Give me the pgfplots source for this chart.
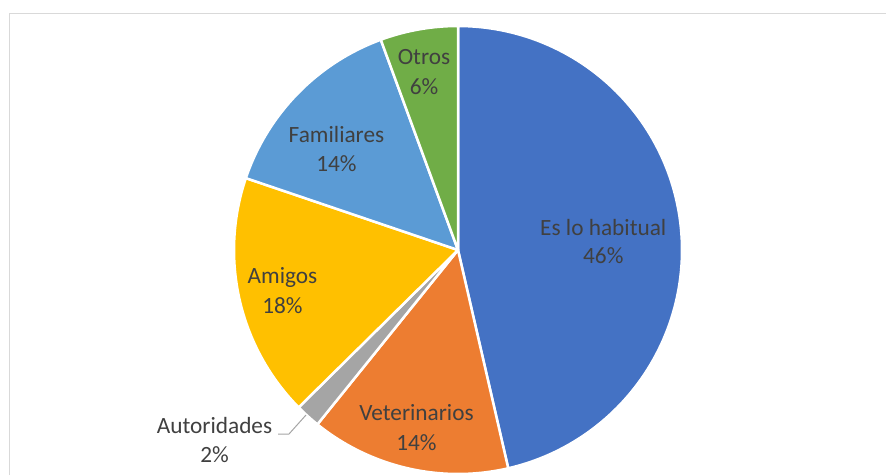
\documentclass[border=0pt]{standalone}
\usepackage{pgfplots}
\pgfplotsset{compat=1.18}
\usepackage{fontspec}
\setmainfont{Carlito}
\definecolor{cBlue}{HTML}{4472C4}
\definecolor{cOrange}{HTML}{ED7D31}
\definecolor{cGray}{HTML}{A5A5A5}
\definecolor{cYellow}{HTML}{FFC000}
\definecolor{cLBlue}{HTML}{5B9BD5}
\definecolor{cGreen}{HTML}{70AD47}
\definecolor{txt}{HTML}{404040}
\definecolor{frame}{HTML}{D9D9D9}
% shares (percent), clockwise from 12 o'clock
\def\vA{46.4}% Es lo habitual
\def\vB{14.4}% Veterinarios
\def\vC{1.8}%  Autoridades
\def\vD{17.6}% Amigos
\def\vE{14.2}% Familiares
\def\vF{5.6}%  Otros
\pgfmathsetmacro\cA{\vA*3.6}
\pgfmathsetmacro\cB{\cA+\vB*3.6}
\pgfmathsetmacro\cC{\cB+\vC*3.6}
\pgfmathsetmacro\cD{\cC+\vD*3.6}
\pgfmathsetmacro\cE{\cD+\vE*3.6}
\pgfmathsetmacro\cF{\cE+\vF*3.6}
\def\cx{458}
\def\cy{225}
\def\rr{224}
\begin{document}
\begin{tikzpicture}
\begin{axis}[hide axis, scale only axis, width=886pt, height=475pt,
  xmin=0, xmax=886, ymin=0, ymax=475, clip=false,
  every axis plot/.append style={samples=120, line join=round}]
\draw[frame, line width=1pt] (axis cs:9,0) -- (axis cs:9,461.7) -- (axis cs:886,461.7);
\addplot[fill=cBlue, draw=white, line width=2.5pt, domain=0:\cA, variable=\t]
  ({\cx+\rr*sin(\t)},{\cy+\rr*cos(\t)}) -- (axis cs:\cx,\cy) -- cycle;
\addplot[fill=cOrange, draw=white, line width=2.5pt, domain=\cA:\cB, variable=\t]
  ({\cx+\rr*sin(\t)},{\cy+\rr*cos(\t)}) -- (axis cs:\cx,\cy) -- cycle;
\addplot[fill=cGray, draw=white, line width=2.5pt, domain=\cB:\cC, variable=\t, samples=10]
  ({\cx+\rr*sin(\t)},{\cy+\rr*cos(\t)}) -- (axis cs:\cx,\cy) -- cycle;
\addplot[fill=cYellow, draw=white, line width=2.5pt, domain=\cC:\cD, variable=\t]
  ({\cx+\rr*sin(\t)},{\cy+\rr*cos(\t)}) -- (axis cs:\cx,\cy) -- cycle;
\addplot[fill=cLBlue, draw=white, line width=2.5pt, domain=\cD:\cE, variable=\t]
  ({\cx+\rr*sin(\t)},{\cy+\rr*cos(\t)}) -- (axis cs:\cx,\cy) -- cycle;
\addplot[fill=cGreen, draw=white, line width=2.5pt, domain=\cE:\cF, variable=\t]
  ({\cx+\rr*sin(\t)},{\cy+\rr*cos(\t)}) -- (axis cs:\cx,\cy) -- cycle;
% leader line for Autoridades
\addplot[draw=cGray, line width=1pt, mark=none] coordinates {(278,41) (289,41) (306,60)};
\begin{scope}[every node/.style={anchor=base, text=txt, font=\fontsize{23.3}{28}\selectfont, inner sep=0pt}]
\node at (axis cs:603.3,240) {Es lo habitual};
\node at (axis cs:603.3,211.7) {46\%};
\node at (axis cs:416.5,54.3) {Veterinarios};
\node at (axis cs:416.5,25) {14\%};
\node at (axis cs:214.5,41.7) {Autoridades};
\node at (axis cs:214.5,12.7) {2\%};
\node at (axis cs:282.5,191.7) {Amigos};
\node at (axis cs:282.5,161.7) {18\%};
\node at (axis cs:336.5,332.7) {Familiares};
\node at (axis cs:336.5,303.3) {14\%};
\node at (axis cs:424,410) {Otros};
\node at (axis cs:424,381) {6\%};
\end{scope}
\end{axis}
\pgfresetboundingbox
\path[use as bounding box] (0,0) rectangle (886pt,475pt);
\end{tikzpicture}
\end{document}
